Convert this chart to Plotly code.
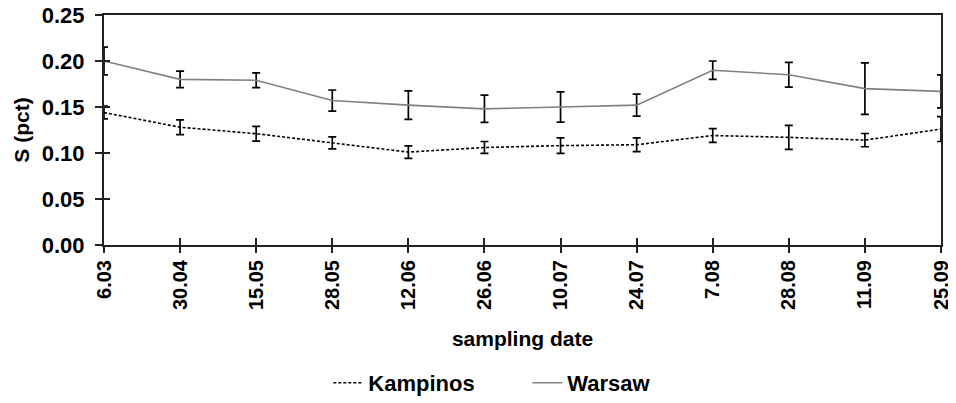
import plotly.graph_objects as go

dates = ["6.03", "30.04", "15.05", "28.05", "12.06", "26.06", "10.07", "24.07", "7.08", "28.08", "11.09", "25.09"]
kampinos = [0.144, 0.128, 0.121, 0.111, 0.101, 0.106, 0.108, 0.109, 0.119, 0.117, 0.114, 0.126]
kampinos_err = [0.007, 0.008, 0.008, 0.0065, 0.0068, 0.0065, 0.0085, 0.0075, 0.0075, 0.013, 0.0072, 0.0135]
warsaw = [0.200, 0.180, 0.179, 0.157, 0.152, 0.148, 0.150, 0.152, 0.190, 0.185, 0.170, 0.167]
warsaw_err = [0.015, 0.009, 0.008, 0.0115, 0.0155, 0.0148, 0.0165, 0.012, 0.010, 0.0135, 0.028, 0.018]
y_ticks = [0.00, 0.05, 0.10, 0.15, 0.20, 0.25]

FONT = "Liberation Sans, Arial, sans-serif"
AXC = "#222222"

fig = go.Figure()
fig.add_trace(go.Scatter(
    x=dates, y=kampinos, name="Kampinos", mode="lines",
    line=dict(color="black", width=1.6, dash="3px,2px"),
    error_y=dict(type="data", array=kampinos_err, visible=True, color="black", thickness=1.7, width=4),
    cliponaxis=False,
))
fig.add_trace(go.Scatter(
    x=dates, y=warsaw, name="Warsaw", mode="lines",
    line=dict(color="#808080", width=1.6),
    error_y=dict(type="data", array=warsaw_err, visible=True, color="black", thickness=1.7, width=4),
    cliponaxis=False,
))
# invisible helper trace for overlay axes (inside half of crossing ticks)
fig.add_trace(go.Scatter(
    x=dates, y=warsaw, xaxis="x2", yaxis="y2", mode="markers",
    marker=dict(opacity=0), showlegend=False, hoverinfo="skip",
))

# page body has an 8px margin, so the figure is 8px smaller than the window
fig.update_layout(
    width=948, height=395,
    margin=dict(l=96, r=15, t=7, b=158, autoexpand=False),
    paper_bgcolor="white", plot_bgcolor="white",
    font=dict(family=FONT, color="black"),
    showlegend=True,
    legend=dict(orientation="h", x=0.268, xanchor="left", y=-0.6, yanchor="middle",
                font=dict(family=FONT, size=22, weight="bold"), traceorder="normal",
                itemwidth=30, entrywidth=154, entrywidthmode="pixels"),
    xaxis=dict(
        type="category", range=[0, 11], showline=True, linecolor=AXC, linewidth=2,
        mirror=True, ticks="outside", ticklen=6, tickwidth=1.6, tickcolor=AXC,
        tickangle=-90, tickfont=dict(family=FONT, size=20, weight="bold"),
        ticklabelstandoff=-1, automargin=False, ticklabeloverflow="allow",
        showgrid=False, zeroline=False,
        title=dict(text="sampling date", font=dict(family=FONT, size=21, weight="bold"), standoff=22),
    ),
    yaxis=dict(
        range=[0, 0.25], tickvals=y_ticks, tickformat=".2f", showline=True, linecolor=AXC,
        linewidth=2, mirror=True, ticks="outside", ticklen=7, tickwidth=1.6, tickcolor=AXC,
        ticklabelstandoff=6, automargin=False, ticklabeloverflow="allow",
        tickfont=dict(family=FONT, size=22, weight="bold"), showgrid=False, zeroline=False,
        title=dict(text="S (pct)", font=dict(family=FONT, size=21, weight="bold"), standoff=6),
    ),
    xaxis2=dict(
        type="category", range=[0, 11], overlaying="x", anchor="y2", side="bottom",
        ticks="inside", ticklen=7, tickwidth=1.6, tickcolor=AXC, automargin=False,
        showticklabels=False, showgrid=False, zeroline=False, showline=False,
    ),
    yaxis2=dict(
        range=[0, 0.25], tickvals=y_ticks, overlaying="y", anchor="x2", side="left",
        ticks="inside", ticklen=6, tickwidth=1.6, tickcolor=AXC, automargin=False,
        showticklabels=False, showgrid=False, zeroline=False, showline=False,
    ),
)

fig.write_html("out.html")
